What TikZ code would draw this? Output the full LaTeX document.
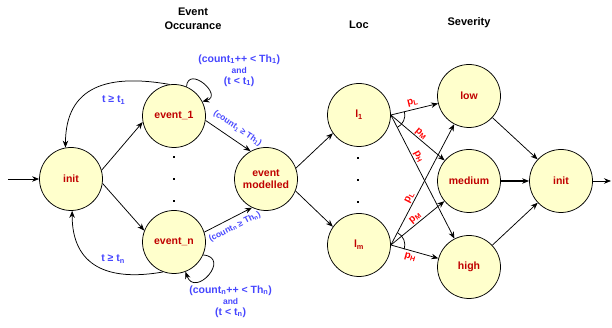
\documentclass[tikz,border=0pt]{standalone}
\usepackage{fontspec}
\setmainfont{Liberation Sans}
\usepackage{xcolor}
\usepackage{tikz}
\usetikzlibrary{arrows,arrows.meta,automata,positioning,calc}

\definecolor{stfill}{HTML}{FFFFCC}
\definecolor{sttext}{HTML}{C00000}
\definecolor{lblue}{HTML}{4646FF}
\definecolor{pred}{HTML}{FF0000}

\newcommand{\lsub}[1]{\textsubscript{#1}}
\newcommand{\smalland}{{\fontsize{8.5}{9}\selectfont and}}

\begin{document}
\begin{tikzpicture}[on grid,inner sep=1pt,line width=0.75pt,
  >={Stealth[length=7pt,width=5.5pt]},
  every state/.style={draw=black,fill=stfill,text=sttext,minimum size=63pt,inner sep=0pt,
    font=\fontsize{10.5}{12}\selectfont\bfseries,align=center},
  lbl/.style={text=lblue,font=\fontsize{10.5}{11}\selectfont\bfseries,align=center},
  slbl/.style={text=lblue,font=\fontsize{8.5}{10}\selectfont\bfseries,sloped},
  plbl/.style={text=pred,font=\fontsize{10}{11}\selectfont\bfseries,sloped},
  ttl/.style={font=\fontsize{11}{13.5}\selectfont\bfseries,align=center},
  dot/.style={fill=black,rectangle,minimum size=2.6pt,inner sep=0pt}]

\node[state] (init) {init};
\node[state] (e1) [above right=63pt and 103pt of init] {event\_1};
\node[state] (en) [below right=63pt and 103pt of init] {event\_n};
\node[state] (em) [right=195pt of init] {event\\modelled};
\node[state] (l1) [above right=64pt and 93pt of em] {l\lsub{1}};
\node[state] (lm) [below right=66pt and 93pt of em] {l\lsub{m}};
\node[state] (med) [below right=2pt and 203pt of em] {medium};
\node[state] (low) [above=85pt of med] {low};
\node[state] (high) [below=86pt of med] {high};
\node[state] (fin) [right=92pt of med] {init};

\useasboundingbox ($(init)+(-71pt,-149pt)$) rectangle ++(612pt,328pt);

% column titles
\node[ttl] (tevt) [above right=97pt and 19pt of e1] {Event\\Occurance};
\node[ttl] (tloc) [above=90pt of l1] {Loc};
\node[ttl] (tsev) [above=73pt of low] {Severity};

% vertical dots
\foreach \d/\k in {22/a,0/b,-22/c} {
  \node[dot] (ed\k) at ($(e1)!0.5!(en)+(0,\d pt)$) {};
  \node[dot] (ld\k) at ($(l1)!0.5!(lm)+(-1pt,\d pt)$) {};
}

\coordinate[left=63pt of init] (start);
\coordinate[right=50pt of fin] (stop);

\draw[->] (start) -- (init);
\path (init.16) edge[->] (e1.191);
\path (init.-8) edge[->] (en.159);
\path (e1.98) edge[->,out=170,in=90,looseness=1.3] node[lbl,pos=0.5,xshift=19pt,yshift=-11pt] {t ≥ t\lsub{1}} (init.100);
\path (en.-110) edge[->,out=190,in=-90,looseness=1.3] node[lbl,pos=0.5,xshift=16pt,yshift=7pt] {t ≥ t\lsub{n}} (init.-88);
\path (e1.67) edge[->,out=85,in=15,looseness=2.6] node[lbl,pos=0.5,xshift=36pt,yshift=13pt] {(count\lsub{1}++ < Th\lsub{1})\\\smalland\\(t < t\lsub{1})} (e1.27);
\path (en.-24) edge[->,out=-5,in=-70,looseness=3] node[lbl,pos=0.5,xshift=22pt,yshift=-27pt] {(count\lsub{n}++ < Th\lsub{n})\\\smalland\\(t < t\lsub{n})} (en.-69);
\path (e1.-8) edge[->] node[slbl,above=6pt,pos=0.57] {(count\lsub{1} ≥ Th\lsub{1})} (em.119);
\path (en.18) edge[->] node[slbl,below=4pt,pos=0.55] {(count\lsub{n} ≥ Th\lsub{n})} (em.-116);
\path (em.20) edge[->] (l1.215);
\path (em.-22) edge[->] (lm.145);

% location to severity
\path (l1.east) edge[->] node[plbl,above=2pt,pos=0.5] {p\lsub{L}} (low);
\path (l1.east) edge[->] node[plbl,above,pos=0.5] {p\lsub{M}} (med);
\path (l1.east) edge[->] node[plbl,above,pos=0.36] {p\lsub{H}} (high);
\path (lm.east) edge[->] node[plbl,above,pos=0.37] {p\lsub{L}} (low);
\path (lm.east) edge[->] node[plbl,above,pos=0.52] {p\lsub{M}} (med);
\path (lm.east) edge[->] node[plbl,below=2pt,pos=0.45] {p\lsub{H}} (high);
\draw ([shift={(13:14pt)}]l1.east) arc[start angle=13,end angle=-63,radius=14pt];
\draw ([shift={(62:14pt)}]lm.east) arc[start angle=62,end angle=-18,radius=14pt];

\path (low) edge[->] (fin);
\path (med) edge[->,line width=1.1pt] (fin);
\path (high) edge[->] (fin);
\draw[->] (fin) -- (stop);

\end{tikzpicture}
\end{document}
